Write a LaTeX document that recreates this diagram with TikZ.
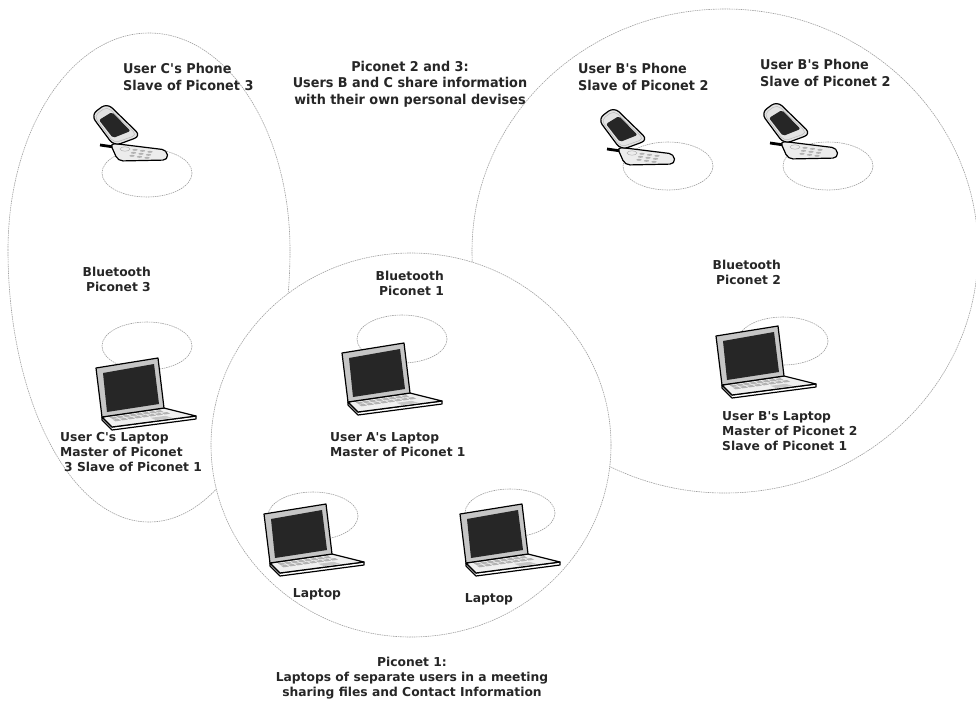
\documentclass[tikz,border=0pt]{standalone}
\usepackage{fontspec}
\setmainfont{DejaVu Sans}
\newfontfamily\narrowfont{DejaVu Sans}[FakeStretch=0.95]
\usetikzlibrary{positioning}

\newcommand{\apos}{\textquotesingle}

\tikzset{
    body/.style={draw=black,line width=1.2pt,line join=round},
    % laptop, origin at the lower left corner of the lid
    laptop/.pic={
        \filldraw[body,fill=white] (0,0) -- (0,3) -- (10,13) -- (94,2) -- (94,-1) -- (10,10) -- cycle;
        \filldraw[body,fill=gray!12] (0,0) -- (62,-9) -- (94,-1) -- (10,10) -- cycle;
        \foreach \c in {0,...,7} {
            \fill[gray!60] ({7.7+6.5*\c},{0.3-0.92*\c}) -- ++(5.2,-0.74) -- ++(2.9,1.7) -- ++(-5.2,0.74) -- cycle;
            \fill[gray!60] ({10.6+7*\c},{2.6-0.97*\c}) -- ++(5.5,-0.78) -- ++(3,1.7) -- ++(-5.5,0.78) -- cycle;
        }
        \fill[gray!45] (48.5,0.8) -- (63.7,-1.2) -- (70.4,0.9) -- (54,3.1) -- cycle;
        \filldraw[body,fill=gray!45] (0,0) -- (-6,-49) -- (56,-59) -- (62,-9) -- cycle;
        \fill[black!85] (5,-5) -- (1,-44) -- (52,-53) -- (57,-13) -- cycle;
    },
    % flip phone, origin at the hinge
    phone/.pic={
        \draw[line width=2.8pt] (-18,0) -- (-4,2);
        \filldraw[body,fill=gray!15,rounded corners=5pt] (-8,-2) -- (49,5) -- (50,15) -- (0,16) -- cycle;
        \draw[gray!60,line width=0.5pt] (7,4) ellipse (5 and 2.2);
        \foreach \i in {0,1,2}
            \foreach \j in {0,1,2}
                \fill[gray!60] ({17+7.5*\i-1.5*\j},{4.8+1*\i+3*\j}) ellipse (2.6 and 1);
        \filldraw[body,fill=gray!22,rounded corners=7pt] (-27,-30) -- (-11,-42) -- (23,-9) -- (-4,1) -- cycle;
        \draw[gray!55,line width=0.5pt,rounded corners=5pt] (-24,-29) -- (-11,-38.5) -- (19,-10) -- (-4,-2) -- cycle;
        \fill[black!85,rounded corners=2pt] (-19,-25) -- (-6,-33) -- (12.5,-14) -- (-5,-7) -- cycle;
    }
}

\begin{document}
\begin{tikzpicture}[x=1pt,y=-1pt]
    \tikzstyle{zone}=[draw=gray!75,line width=0.6pt,dash pattern=on 1.5pt off 0.8pt]
    \tikzstyle{lbl}=[inner sep=0pt,text=black!85,font=\bfseries\fontsize{12.3}{15}\selectfont]
    \tikzstyle{toplbl}=[lbl,font=\narrowfont\bfseries\fontsize{13.5}{16.3}\selectfont]
    \useasboundingbox (0,0) rectangle (976,702);

    % piconet 3 is fuller at the top, piconet 2, then piconet 1 over both
    \draw[zone] (8,250) arc[start angle=180,end angle=360,x radius=141,y radius=217]
        arc[start angle=0,end angle=180,x radius=141,y radius=272];
    \draw[zone] (725,251) ellipse (253 and 242);
    \filldraw[zone,fill=white] (411,445) ellipse (200 and 192);

    % range of every device
    \foreach \x/\y in {147/173, 668/166, 828/166, 147/346, 402/339, 313/516, 510/513, 783/341}
        \draw[zone] (\x,\y) ellipse (45 and 24);

    \foreach \num/\x/\y in {C/118/145, B1/625/149, B2/788/143}
        \pic (phone-\num) at (\x,\y) {phone};
    \foreach \num/\x/\y in {C/102/417, A/348/402, L1/270/563, L2/466/563, B/722/385}
        \pic (laptop-\num) at (\x,\y) {laptop};

    % text nodes sit on the baseline of their last line
    \node[toplbl,anchor=base west,align=left] (txt-phone-C) at (123,90) {User C\apos s Phone\\Slave of Piconet 3};
    \node[toplbl,anchor=base,align=center] (txt-p23) at (410,104) {Piconet 2 and 3:\\Users B and C share information\\with their own personal devises};
    \node[toplbl,anchor=base west,align=left] (txt-phone-B1) at (578,90) {User B\apos s Phone\\Slave of Piconet 2};
    \node[toplbl,anchor=base west,align=left] (txt-phone-B2) at (760,86) {User B\apos s Phone\\Slave of Piconet 2};

    \node[lbl,anchor=base east,align=right] (txt-bt3) at (151,291) {Bluetooth\\Piconet 3};
    \node[lbl,anchor=base east,align=right] (txt-bt1) at (444,295) {Bluetooth\\Piconet 1};
    \node[lbl,anchor=base east,align=right] (txt-bt2) at (781,284) {Bluetooth\\Piconet 2};

    \node[lbl,anchor=base west,align=left] (txt-laptop-C) at (60,471) {User C\apos s Laptop\\Master of Piconet\\\hspace*{4pt}3 Slave of Piconet 1};
    \node[lbl,anchor=base west,align=left] (txt-laptop-A) at (330,456) {User A\apos s Laptop\\Master of Piconet 1};
    \node[lbl,anchor=base west,align=left] (txt-laptop-B) at (722,450) {User B\apos s Laptop\\Master of Piconet 2\\Slave of Piconet 1};
    \node[lbl,anchor=base] (txt-laptop-L1) at (317,597) {Laptop};
    \node[lbl,anchor=base] (txt-laptop-L2) at (489,602) {Laptop};

    \node[lbl,anchor=base,align=center] (txt-p1) at (412,696) {Piconet 1:\\Laptops of separate users in a meeting\\sharing files and Contact Information};
\end{tikzpicture}
\end{document}
